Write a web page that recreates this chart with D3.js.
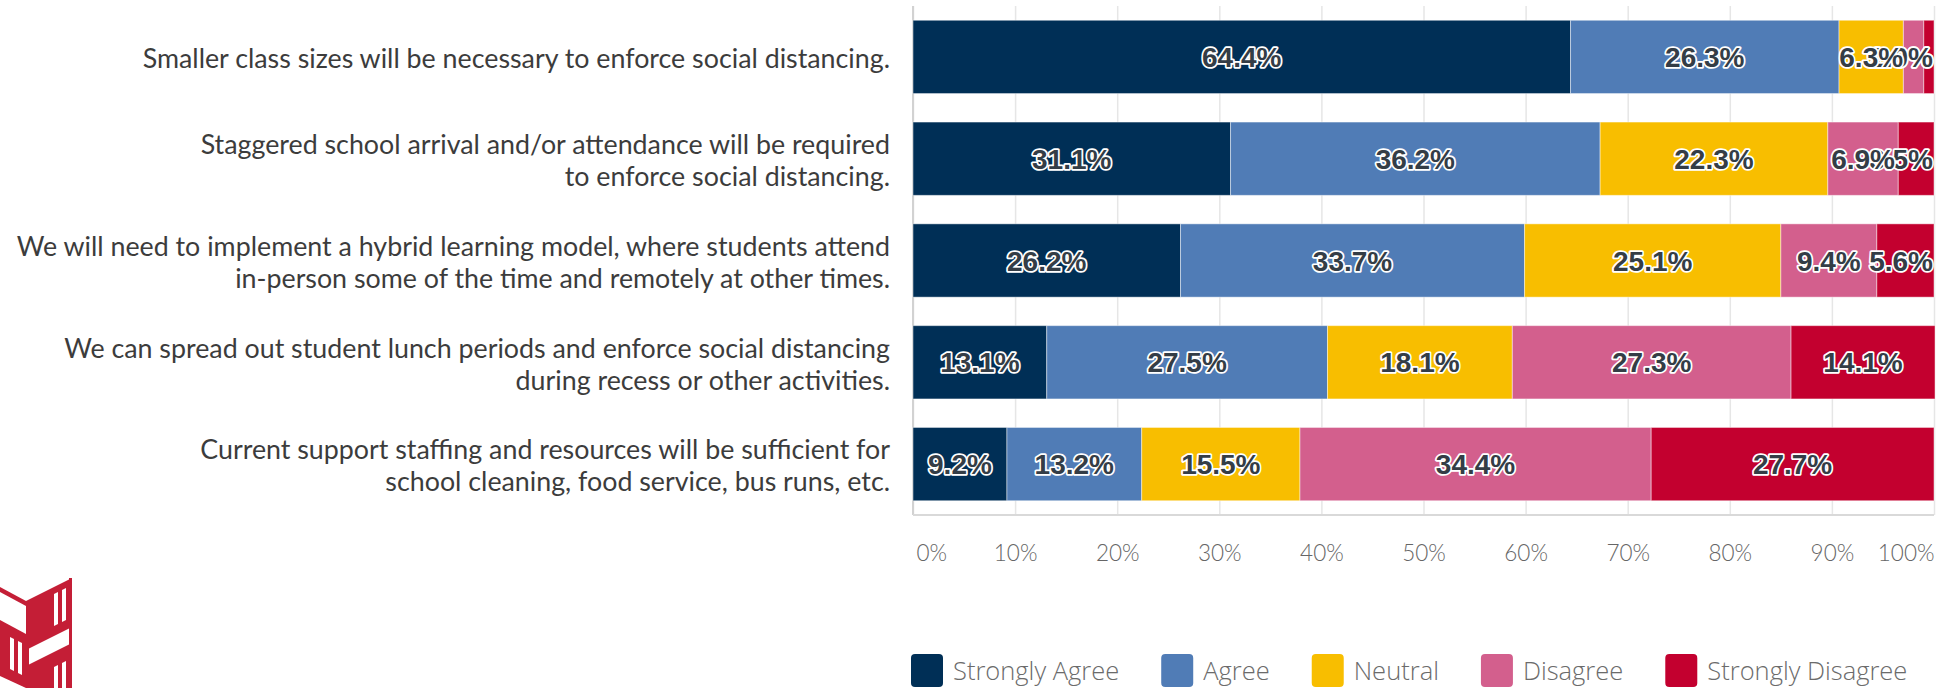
<!DOCTYPE html>
<html>
<head>
<meta charset="utf-8">
<script src="https://cdn.jsdelivr.net/npm/d3@7"></script>
<style>
  body { margin: 0; background: #fff; }
  svg { display: block; }
</style>
</head>
<body>
<svg class="mainsvg" width="1953" height="688"></svg>
<script>
// question text, split the way the slide wraps it
var questions = [
	["Smaller class sizes will be necessary to enforce social distancing."],
	["Staggered school arrival and/or attendance will be required", "to enforce social distancing."],
	["We will need to implement a hybrid learning model, where students attend", "in-person some of the time and remotely at other times."],
	["We can spread out student lunch periods and enforce social distancing", "during recess or other activities."],
	["Current support staffing and resources will be sufficient for", "school cleaning, food service, bus runs, etc."]
];
var seriesNames = ["Strongly Agree", "Agree", "Neutral", "Disagree", "Strongly Disagree"];
var seriesColors = ["#002f56", "#507cb6", "#f8be00", "#d35f8d", "#c3002f"];

var stronglyAgree    = [64.4, 31.1, 26.2, 13.1, 9.2];
var agree            = [26.3, 36.2, 33.7, 27.5, 13.2];
var neutral          = [6.3, 22.3, 25.1, 18.1, 15.5];
var disagree         = [2.0, 6.9, 9.4, 27.3, 34.4];
var stronglyDisagree = [1.0, 3.5, 5.6, 14.1, 27.7];

var tickValues = [0, 10, 20, 30, 40, 50, 60, 70, 80, 90, 100];

var svg = d3.select('.mainsvg');

var plotLeft = 913, plotRight = 1934, plotTop = 6, plotBottom = 515;

var rows = questions.map(function (q, i) {
	return {
		idx: 'q' + i,
		"Strongly Agree": stronglyAgree[i],
		"Agree": agree[i],
		"Neutral": neutral[i],
		"Disagree": disagree[i],
		"Strongly Disagree": stronglyDisagree[i]
	};
});

var x = d3.scaleLinear().domain([0, 100]).range([plotLeft, plotRight]);
var y = d3.scaleBand()
	.domain(rows.map(function (d) { return d.idx; }))
	.range([plotTop, plotBottom])
	.paddingInner(0.28)
	.paddingOuter(0.14);
var color = d3.scaleOrdinal().domain(seriesNames).range(seriesColors);

// grid + tick labels
var axis = svg.append('g')
	.attr('transform', 'translate(0,' + plotBottom + ')')
	.call(d3.axisBottom(x)
		.tickValues(tickValues)
		.tickSize(-(plotBottom - plotTop))
		.tickPadding(30)
		.tickFormat(function (d) { return d + '%'; }));

axis.select('.domain').remove();
axis.selectAll('.tick line')
	.attr('stroke', '#e6e6e6')
	.attr('stroke-width', 1.5);
axis.selectAll('.tick text')
	.attr('fill', '#666666')
	.attr('font-family', 'Lato, "Open Sans", sans-serif')
	.attr('font-size', '22.5px')
	.attr('font-weight', 300)
	.attr('text-anchor', function (d) { return d === 0 ? 'start' : (d === 100 ? 'end' : 'middle'); })
	.attr('dx', function (d) { return d === 0 ? 3 : 0; });

svg.append('line')
	.attr('x1', plotLeft).attr('x2', plotLeft)
	.attr('y1', plotTop).attr('y2', plotBottom)
	.attr('stroke', '#d2d2d2')
	.attr('stroke-width', 2);

svg.append('line')
	.attr('x1', plotLeft).attr('x2', plotRight)
	.attr('y1', plotBottom).attr('y2', plotBottom)
	.attr('stroke', '#d9d9d9')
	.attr('stroke-width', 2);

// stacked bars
var stacked = d3.stack().keys(seriesNames)(rows);

var layers = svg.append('g')
	.selectAll('g')
	.data(stacked)
	.join('g')
	.attr('fill', function (d) { return color(d.key); });

layers.selectAll('rect')
	.data(function (d) { return d; })
	.join('rect')
	.attr('x', function (d) { return x(d[0]); })
	.attr('y', function (d) { return y(d.data.idx); })
	.attr('width', function (d) { return x(d[1]) - x(d[0]); })
	.attr('height', y.bandwidth())
	.attr('stroke', 'rgba(255,255,255,0.45)')
	.attr('stroke-width', 1);

// value labels, last series first so earlier ones sit on top
var labelLayers = svg.append('g')
	.selectAll('g')
	.data(stacked.slice().reverse())
	.join('g');

labelLayers.selectAll('text')
	.data(function (d) { return d; })
	.join('text')
	.attr('x', function (d) { return (x(d[0]) + x(d[1])) / 2; })
	.attr('y', function (d) { return y(d.data.idx) + y.bandwidth() / 2; })
	.attr('dy', '0.36em')
	.attr('text-anchor', 'middle')
	.attr('font-family', '"Liberation Sans", Arial, sans-serif')
	.attr('font-size', '28px')
	.attr('font-weight', 700)
	.attr('fill', '#343d46')
	.attr('stroke', '#ffffff')
	.attr('stroke-width', 3.5)
	.attr('stroke-linejoin', 'round')
	.attr('paint-order', 'stroke')
	.text(function (d) { return d3.format('.1f')(d[1] - d[0]) + '%'; })
	.each(function (d) {
		// keep labels inside the plot, like the survey tool does
		var w = this.getComputedTextLength();
		var cx = (x(d[0]) + x(d[1])) / 2;
		if (cx + w / 2 > plotRight) d3.select(this).attr('x', plotRight - w / 2 - 1);
	});

// question labels
var qText = svg.append('g')
	.selectAll('text')
	.data(rows)
	.join('text')
	.attr('text-anchor', 'end')
	.attr('font-family', 'Lato, "Open Sans", sans-serif')
	.attr('font-size', '26.8px')
	.attr('fill', '#3c3c3c');

qText.each(function (d, i) {
	var lines = questions[i];
	var cy = y(d.idx) + y.bandwidth() / 2 + 2;
	var lh = 32;
	var t = d3.select(this);
	lines.forEach(function (line, j) {
		t.append('tspan')
			.attr('x', 890)
			.attr('y', cy + (j - (lines.length - 1) / 2) * lh)
			.attr('dy', '0.35em')
			.text(line);
	});
});

// legend
var legend = svg.append('g').attr('transform', 'translate(911,654)');
var lx = 0;
seriesNames.forEach(function (name) {
	var g = legend.append('g').attr('transform', 'translate(' + lx + ',0)');
	g.append('rect')
		.attr('width', 32).attr('height', 33)
		.attr('rx', 4).attr('ry', 4)
		.attr('fill', color(name));
	var t = g.append('text')
		.attr('x', 42)
		.attr('y', 17)
		.attr('dy', '0.35em')
		.attr('font-family', '"Open Sans", Lato, sans-serif')
		.attr('font-size', '25.5px')
		.attr('font-weight', 300)
		.attr('fill', '#6b6b6b')
		.text(name);
	lx += 42 + t.node().getComputedTextLength() + 42;
});

// logo, bottom left corner
var logo = svg.append('g').attr('fill', '#c41e36');
logo.append('path').attr('d', 'M0,587 L26,601 L26,606 L0,592 Z');
logo.append('path').attr('d', 'M26,601 L72,578 L72,627 L26,650 Z');
logo.append('path').attr('d', 'M26,666 L72,643 L72,688 L26,688 Z');
logo.append('path').attr('d', 'M26,601 L29,601 L29,688 L26,688 Z');
logo.append('path').attr('d', 'M69,578 L72,578 L72,688 L69,688 Z');
logo.append('path').attr('d', 'M0,620 L26,634 L26,688 L0,688 Z');
var stripes = svg.append('g').attr('fill', '#ffffff');
stripes.append('path').attr('d', 'M54,594 L58,592 L58,624 L54,626 Z');
stripes.append('path').attr('d', 'M62,590 L66,588 L66,620 L62,622 Z');
stripes.append('path').attr('d', 'M54,667 L58,665 L58,688 L54,688 Z');
stripes.append('path').attr('d', 'M62,663 L66,661 L66,688 L62,688 Z');
stripes.append('path').attr('d', 'M10,637 L14,639 L14,671 L10,669 Z');
stripes.append('path').attr('d', 'M18,641 L22,643 L22,675 L18,673 Z');
stripes.append('path').attr('d', 'M0,676 L26,688 L0,688 Z');
</script>
</body>
</html>
